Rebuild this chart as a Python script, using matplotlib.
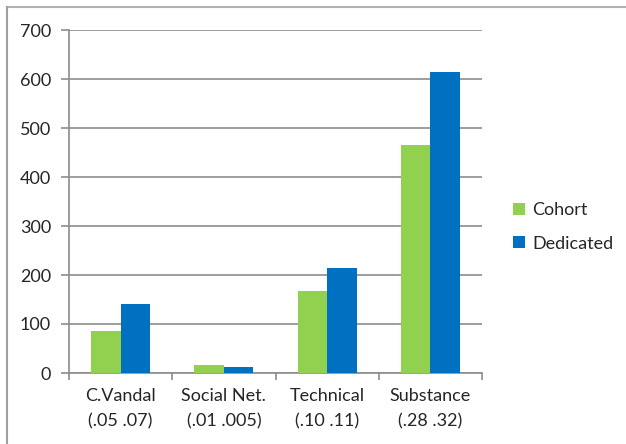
import matplotlib
matplotlib.use("Agg")
import matplotlib.pyplot as plt
import numpy as np
from matplotlib.lines import Line2D

categories = ["C.Vandal\n(.05 .07)", "Social Net.\n(.01 .005)", "Technical\n(.10 .11)", "Substance\n(.28 .32)"]
cohort = [86, 17, 168, 465]
dedicated = [141, 12, 214, 615]
yticks = [0, 100, 200, 300, 400, 500, 600, 700]

plt.rcParams['font.family'] = ['Lato', 'DejaVu Sans']
FS = 13

fig = plt.figure(figsize=(6.26, 4.44), dpi=100)
ax = fig.add_axes([69/626, 1-373/444, (482-69)/626, (373-30)/444])

x = np.arange(len(categories))
w = 1/3.5
ax.bar(x - w/2, cohort, w, color="#92D050", label="Cohort", zorder=3)
ax.bar(x + w/2, dedicated, w, color="#0070C0", label="Dedicated", zorder=3)

ax.set_xlim(-0.5, len(categories) - 0.5)
ax.set_ylim(0, 700)
ax.set_yticks(yticks)
ax.set_yticklabels([str(v) for v in yticks], fontsize=FS, color="#262626")
ax.yaxis.grid(True, color="#8c8c8c", linewidth=1.2, zorder=0)
ax.set_xticks(x)
ax.set_xticklabels(categories, fontsize=FS, color="#262626", linespacing=1.7)
ax.tick_params(axis='x', which='major', length=0, pad=11)
ax.set_xticks(np.arange(-0.5, len(categories), 1.0), minor=True)
ax.tick_params(axis='x', which='minor', length=5, color="#8c8c8c", width=1.2, direction='out')
ax.tick_params(axis='y', length=6, color="#8c8c8c", width=1.2, pad=7)

for s in ['top', 'right']:
    ax.spines[s].set_visible(False)
for s in ['left', 'bottom']:
    ax.spines[s].set_color("#8c8c8c")
    ax.spines[s].set_linewidth(1.2)

leg = ax.legend(loc='center left', bbox_to_anchor=(513/626, 1-227/444), bbox_transform=fig.transFigure,
                frameon=False, fontsize=FS, handlelength=0.65, handleheight=0.65,
                handletextpad=0.4, labelspacing=0.95, borderpad=0, borderaxespad=0)
for t in leg.get_texts():
    t.set_color("#262626")

fig.add_artist(Line2D([7/626, 1.0], [1-7.5/444, 1-7.5/444], transform=fig.transFigure, color="#b0b0b0", linewidth=1.5))
fig.add_artist(Line2D([7/626, 7/626], [0.0, 1-7.5/444], transform=fig.transFigure, color="#a0a0a0", linewidth=1.5))

fig.savefig("out.png", dpi=100)
